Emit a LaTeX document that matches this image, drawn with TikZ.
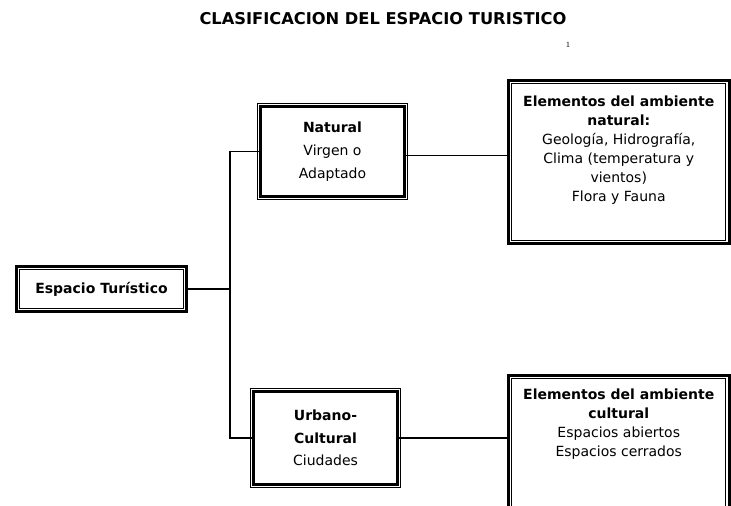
\documentclass[tikz,border=0pt]{standalone}
\usepackage{fontspec}
\newfontfamily\dejavu{DejaVu Sans}
\usetikzlibrary{positioning}

\tikzset{
  caja/.style={draw, line width=2.25pt, align=center, inner sep=0pt, outer sep=0pt,
    font=\dejavu\fontsize{10.5}{17}\selectfont},
  texto/.style={align=center, inner sep=0pt, font=\dejavu\fontsize{10.5}{14.25}\selectfont},
  marco/.style={draw, line width=0.75pt},
  linea/.style={line width=1.3pt},
}

\begin{document}
\begin{tikzpicture}[x=0.75pt, y=-0.75pt]
  \useasboundingbox (0,0) rectangle (731,506);
  \clip (0,0) rectangle (731,506);
  % titulo
  \node[font=\dejavu\bfseries\fontsize{12.2}{14}\selectfont] (titulo) at (383,19) {CLASIFICACION DEL ESPACIO TURISTICO};
  \node[font=\fontsize{6}{7}\selectfont] (nota) at (568,45) {1};
  % cajas de la izquierda
  \node[caja, minimum width=127.5pt, minimum height=33.75pt] (esp) at (101.5,289) {\bfseries Espacio Turístico};
  \node[caja, minimum width=108pt, minimum height=67.5pt] (nat) at (332.5,151.5) {\bfseries Natural\\Virgen o\\Adaptado};
  \node[caja, minimum width=108pt, minimum height=69.75pt] (urb) at (325.5,438) {\bfseries Urbano-\\\bfseries Cultural\\Ciudades};
  % cajas de la derecha
  \node[caja, minimum width=165.4pt, minimum height=122.6pt] (natel) at (618.75,161.75) {};
  \node[caja, minimum width=165.4pt, minimum height=112pt] (culel) at (618.75,450) {};
  \node[texto, below=11.6pt of natel.north] (natel-t) {\bfseries Elementos del ambiente\\\bfseries natural:\\Geología, Hidrografía,\\Clima (temperatura y\\vientos)\\Flora y Fauna};
  \node[texto, below=9.75pt of culel.north] (culel-t) {\bfseries Elementos del ambiente\\\bfseries cultural\\Espacios abiertos\\Espacios cerrados};
  % marcos finos
  \foreach \n in {nat,urb}
    \draw[marco] ([shift={(-2.6pt,-2.6pt)}]\n.south west) rectangle ([shift={(2.6pt,2.6pt)}]\n.north east);
  \foreach \n in {esp,natel,culel}
    \draw[marco] ([shift={(2.6pt,2.6pt)}]\n.south west) rectangle ([shift={(-2.6pt,-2.6pt)}]\n.north east);
  % conectores
  \coordinate (tronco) at (230,289);
  \draw[linea] (esp.east) -- (tronco);
  \draw[linea] (nat.west) -| (tronco) |- (urb.west);
  \draw[linea] ([yshift=-3pt]nat.east) -- ([yshift=-3pt]nat.east -| natel.west);
  \draw[linea] (urb.east) -- (urb.east -| culel.west);
\end{tikzpicture}
\end{document}
